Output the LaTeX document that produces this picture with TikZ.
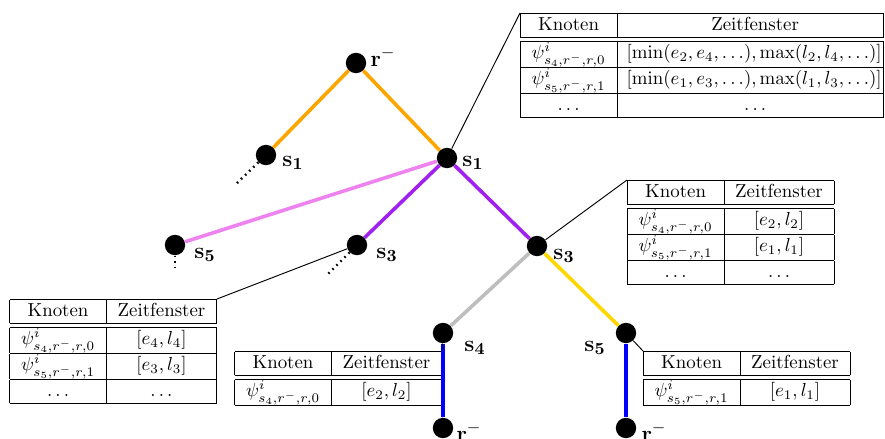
\documentclass[tikz,border=0pt]{standalone}
\usepackage{amsmath}
\definecolor{cOrange}{HTML}{FFA500}
\definecolor{cViolet}{HTML}{EE82EE}
\definecolor{cPurple}{HTML}{A020F0}
\definecolor{cGray}{HTML}{BEBEBE}
\definecolor{cGold}{HTML}{FFD700}
\definecolor{cBlue}{HTML}{0000FF}
\renewcommand{\arraystretch}{1.03}
\begin{document}
\begin{tikzpicture}[x=0.53pt,y=-0.53pt,
  vtx/.style={circle,fill=black,minimum size=10.8pt,inner sep=0pt},
  lbl/.style={inner sep=0pt,font=\fontsize{13}{15}\selectfont},
  edge/.style={line width=1.9pt},
  dots/.style={line width=1.3pt,dash pattern=on 0.8pt off 2.2pt},
  tbl/.style={inner sep=0pt},
  conn/.style={line width=0.5pt}]
\useasboundingbox (0,0) rectangle (885,439);
% vertices
\node[vtx] (r0) at (356,63) {};
\node[vtx] (s1l) at (266,155) {};
\node[vtx] (s1c) at (447,158) {};
\node[vtx] (s5l) at (175,245) {};
\node[vtx] (s3m) at (357,245) {};
\node[vtx] (s3r) at (537,246) {};
\node[vtx] (s4) at (443,333) {};
\node[vtx] (s5r) at (626,333) {};
\node[vtx] (r1) at (443,428) {};
\node[vtx] (r2) at (626,428) {};
% labels
\node[lbl] (lr0) at (383,57) {$\mathbf{r}^-$};
\node[lbl] (ls1l) at (293,163) {$\mathbf{s}_\mathbf{1}$};
\node[lbl] (ls1c) at (473,163) {$\mathbf{s}_\mathbf{1}$};
\node[lbl] (ls5l) at (205,255) {$\mathbf{s}_\mathbf{5}$};
\node[lbl] (ls3m) at (387,255) {$\mathbf{s}_\mathbf{3}$};
\node[lbl] (ls3r) at (564,256) {$\mathbf{s}_\mathbf{3}$};
\node[lbl] (ls4) at (475,348) {$\mathbf{s}_\mathbf{4}$};
\node[lbl] (ls5r) at (595,348) {$\mathbf{s}_\mathbf{5}$};
\node[lbl] (lr1) at (469,432) {$\mathbf{r}^-$};
\node[lbl] (lr2) at (654,432) {$\mathbf{r}^-$};
% tables
\node[tbl,anchor=north east] (t1) at (884,13) {%
\begin{tabular}{|c|@{\hspace{5pt}}c@{\hspace{1pt}}|}\hline
Knoten & \multicolumn{1}{c|}{Zeitfenster}\\\hline\hline
$\psi^i_{s_4,r^-,r,0}$ & $[\min(e_2,e_4,\ldots),\max(l_2,l_4,\ldots)]$\\\hline
$\psi^i_{s_5,r^-,r,1}$ & $[\min(e_1,e_3,\ldots),\max(l_1,l_3,\ldots)]$\\\hline
$\ldots$ & \multicolumn{1}{c|}{$\ldots$}\\\hline
\end{tabular}};
\node[tbl,anchor=north west] (t2) at (627,180) {%
\begin{tabular}{|c|c|}\hline
Knoten & Zeitfenster\\\hline\hline
$\psi^i_{s_4,r^-,r,0}$ & $[e_2,l_2]$\\\hline
$\psi^i_{s_5,r^-,r,1}$ & $[e_1,l_1]$\\\hline
$\ldots$ & $\ldots$\\\hline
\end{tabular}};
\node[tbl,anchor=north east] (t3) at (217,299) {%
\begin{tabular}{|c|c|}\hline
Knoten & Zeitfenster\\\hline\hline
$\psi^i_{s_4,r^-,r,0}$ & $[e_4,l_4]$\\\hline
$\psi^i_{s_5,r^-,r,1}$ & $[e_3,l_3]$\\\hline
$\ldots$ & $\ldots$\\\hline
\end{tabular}};
\node[tbl,anchor=north east] (t4) at (442,351) {%
\begin{tabular}{|c|c|}\hline
Knoten & Zeitfenster\\\hline\hline
$\psi^i_{s_4,r^-,r,0}$ & $[e_2,l_2]$\\\hline
\end{tabular}};
\node[tbl,anchor=north west] (t5) at (643,351) {%
\begin{tabular}{|c|c|}\hline
Knoten & Zeitfenster\\\hline\hline
$\psi^i_{s_5,r^-,r,1}$ & $[e_1,l_1]$\\\hline
\end{tabular}};
% coordinates for dotted stubs
\coordinate (d1) at (236,184);
\coordinate (d2) at (175,271);
\coordinate (d3) at (328,274);
% edges
\draw[edge,cOrange] (r0) -- (s1l);
\draw[edge,cOrange] (r0) -- (s1c);
\draw[edge,cViolet] (s1c) -- (s5l);
\draw[edge,cPurple] (s1c) -- (s3m);
\draw[edge,cPurple] (s1c) -- (s3r);
\draw[edge,cGray] (s3r) -- (s4);
\draw[edge,cGold] (s3r) -- (s5r);
\draw[edge,cBlue] (s4) -- (r1);
\draw[edge,cBlue] (s5r) -- (r2);
\draw[dots] (s1l) -- (d1);
\draw[dots] (s5l) -- (d2);
\draw[dots] (s3m) -- (d3);
% connectors to tables
\draw[conn] (s1c) -- (t1.north west);
\draw[conn] (s3r) -- (t2.north west);
\draw[conn] (s3m) -- (t3.north east);
\draw[conn] (s4) -- (t4.north east);
\draw[conn] (s5r) -- (t5.north west);
\end{tikzpicture}
\end{document}
